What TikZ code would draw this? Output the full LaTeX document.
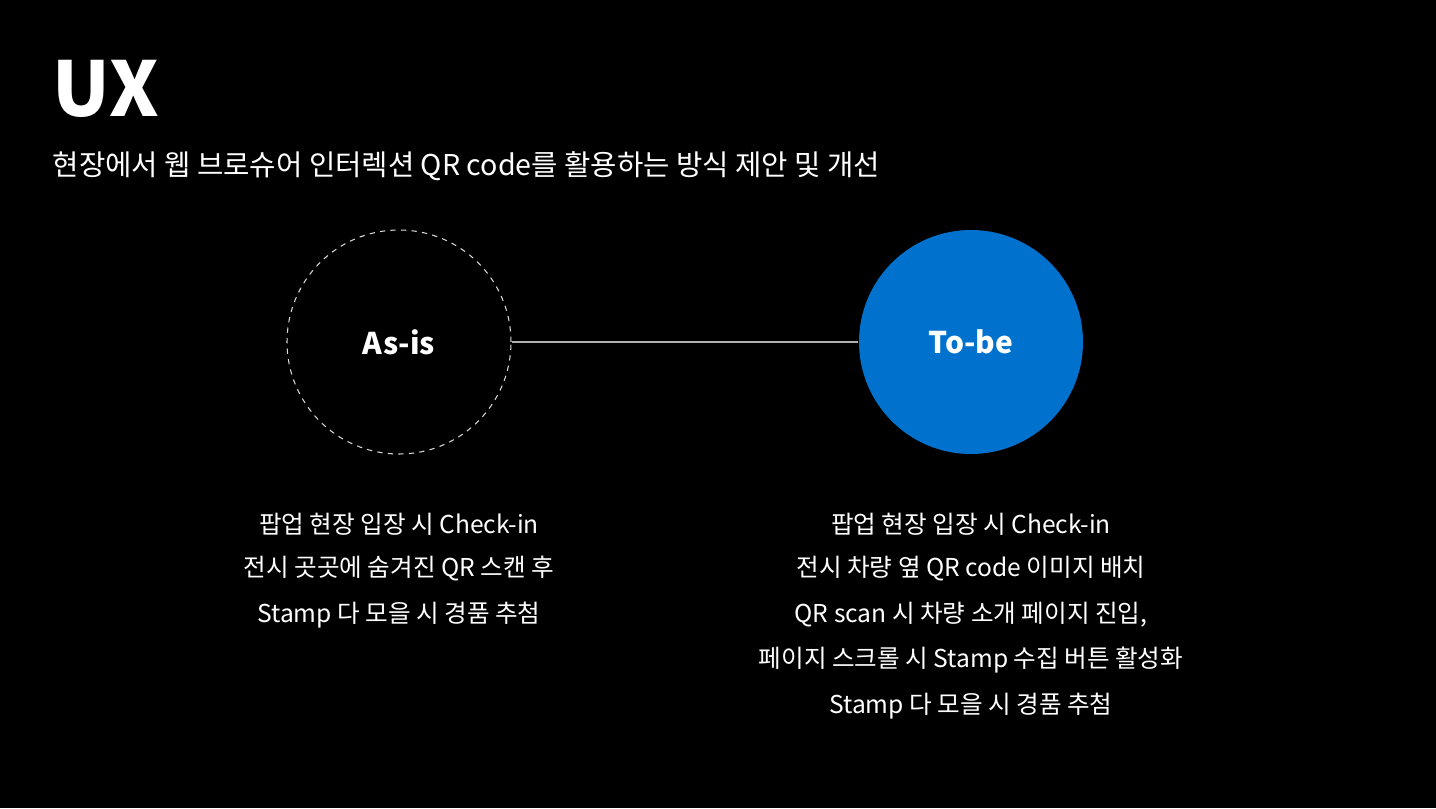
\documentclass[tikz,border=0pt]{standalone}
\usepackage{fontspec}
\setmainfont{Noto Sans CJK KR}
\usepackage{tikz}

\begin{document}
\begin{tikzpicture}[x=0.02cm, y=-0.02cm, thick,
    state/.style = {circle, minimum size=224*0.02cm, inner sep=0pt, text=white, font=\fontsize{17}{20}\selectfont\bfseries},
    note/.style  = {text=white, font=\fontsize{14}{17}\selectfont, anchor=center}]
    \fill[black] (0,0) rectangle (1436,808);
    \node[text=white, anchor=base west, inner sep=0pt, font=\fontsize{43}{48}\selectfont\bfseries] (title) at (52,116) {UX};
    \node[text=white, anchor=west, inner sep=0pt, font=\fontsize{16.3}{19}\selectfont] (sub) at (52,166) {현장에서 웹 브로슈어 인터렉션 QR code를 활용하는 방식 제안 및 개선};

    \node[state, draw=white!85!black, dashed, line width=0.6pt] (asis) at (399,342) {As-is};
    \node[state, fill={rgb,255:red,0;green,114;blue,206}] (tobe) at (971,342) {To-be};
    \draw[white!70!black, line width=0.8pt] (asis) -- (tobe);

    \node[note] (a1) at (399,524) {팝업 현장 입장 시 Check-in};
    \node[note] (a2) at (399,569) {전시 곳곳에 숨겨진 QR 스캔 후};
    \node[note] (a3) at (399,615) {Stamp 다 모을 시 경품 추첨};

    \node[note] (b1) at (971,524) {팝업 현장 입장 시 Check-in};
    \node[note] (b2) at (971,569) {전시 차량 옆 QR code 이미지 배치};
    \node[note] (b3) at (971,615) {QR scan 시 차량 소개 페이지 진입,};
    \node[note] (b4) at (971,660) {페이지 스크롤 시 Stamp 수집 버튼 활성화};
    \node[note] (b5) at (971,706) {Stamp 다 모을 시 경품 추첨};
\end{tikzpicture}
\end{document}
